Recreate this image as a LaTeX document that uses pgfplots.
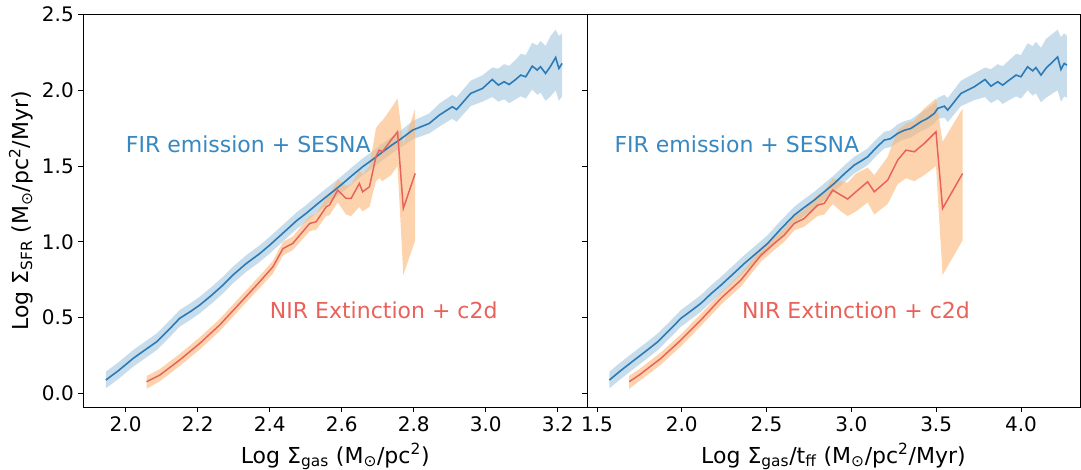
\documentclass[border=0pt]{standalone}
\usepackage{fontspec}
\setmainfont{DejaVu Sans}
\usepackage{pgfplots}
\usepackage{pgfplotstable}
\pgfplotsset{compat=1.18}
\usepgfplotslibrary{fillbetween}

\definecolor{bline}{HTML}{2C7BB6}
\definecolor{bband}{HTML}{1F77B4}
\definecolor{rline}{HTML}{E8615B}
\definecolor{oband}{HTML}{FCB677}
\definecolor{firtext}{HTML}{3787C0}

% left panel: x = log Sigma_gas
\pgfplotstableread{
x y lo hi
1.945 0.088 0.033 0.143
1.980 0.150 0.095 0.205
2.021 0.231 0.176 0.286
2.050 0.280 0.225 0.335
2.086 0.340 0.285 0.395
2.120 0.420 0.365 0.475
2.150 0.495 0.440 0.550
2.180 0.540 0.485 0.595
2.206 0.583 0.528 0.638
2.240 0.650 0.595 0.705
2.270 0.714 0.659 0.769
2.300 0.785 0.730 0.840
2.335 0.857 0.802 0.912
2.370 0.918 0.863 0.973
2.400 0.978 0.923 1.033
2.446 1.077 1.022 1.132
2.475 1.140 1.085 1.195
2.501 1.187 1.132 1.242
2.530 1.245 1.190 1.300
2.557 1.297 1.242 1.352
2.580 1.340 1.285 1.395
2.603 1.385 1.330 1.440
2.630 1.440 1.385 1.495
2.658 1.495 1.440 1.550
2.690 1.550 1.495 1.605
2.714 1.594 1.539 1.649
2.740 1.640 1.585 1.695
2.760 1.671 1.616 1.726
2.797 1.737 1.677 1.797
2.843 1.781 1.715 1.847
2.871 1.836 1.760 1.912
2.907 1.891 1.812 1.970
2.919 1.873 1.792 1.954
2.958 1.979 1.895 2.063
2.991 2.012 1.925 2.099
3.018 2.071 1.955 2.150
3.035 2.034 1.925 2.143
3.051 2.056 1.940 2.172
3.065 2.038 1.915 2.161
3.083 2.071 1.940 2.202
3.097 2.100 1.960 2.240
3.111 2.089 1.945 2.233
3.129 2.159 2.005 2.313
3.143 2.133 1.970 2.296
3.152 2.155 1.985 2.325
3.166 2.111 1.930 2.292
3.180 2.159 1.960 2.358
3.194 2.216 2.000 2.400
3.203 2.144 1.930 2.358
3.212 2.177 1.960 2.375
}\blueL

\pgfplotstableread{
x y lo hi
2.058 0.077 0.030 0.115
2.095 0.121 0.080 0.160
2.150 0.220 0.180 0.260
2.206 0.330 0.290 0.370
2.261 0.451 0.410 0.490
2.317 0.594 0.555 0.635
2.372 0.736 0.695 0.775
2.409 0.835 0.790 0.875
2.437 0.956 0.910 1.000
2.464 0.989 0.945 1.035
2.511 1.121 1.070 1.170
2.529 1.132 1.080 1.185
2.557 1.231 1.170 1.290
2.566 1.242 1.175 1.310
2.589 1.341 1.260 1.410
2.612 1.286 1.180 1.370
2.626 1.286 1.170 1.380
2.649 1.385 1.230 1.470
2.658 1.330 1.200 1.445
2.677 1.363 1.230 1.500
2.695 1.561 1.400 1.748
2.704 1.605 1.420 1.780
2.713 1.594 1.400 1.800
2.737 1.671 1.440 1.880
2.755 1.726 1.500 1.946
2.771 1.220 0.780 1.640
2.804 1.451 1.010 1.880
}\redL

% right panel: x = log Sigma_gas/t_ff
\pgfplotstableread{
x y lo hi
1.573 0.088 0.033 0.143
1.640 0.150 0.095 0.205
1.720 0.220 0.165 0.275
1.790 0.280 0.225 0.335
1.858 0.340 0.285 0.395
1.930 0.420 0.365 0.475
1.995 0.495 0.440 0.550
2.055 0.545 0.490 0.600
2.113 0.594 0.539 0.649
2.170 0.655 0.600 0.710
2.231 0.714 0.659 0.769
2.300 0.785 0.730 0.840
2.369 0.857 0.802 0.912
2.440 0.925 0.870 0.980
2.506 0.989 0.934 1.044
2.580 1.080 1.025 1.135
2.663 1.176 1.121 1.231
2.720 1.225 1.170 1.280
2.781 1.275 1.220 1.330
2.840 1.330 1.275 1.385
2.899 1.385 1.330 1.440
2.960 1.450 1.395 1.505
3.017 1.506 1.451 1.561
3.060 1.535 1.480 1.590
3.096 1.561 1.506 1.616
3.150 1.625 1.570 1.680
3.194 1.671 1.616 1.726
3.230 1.680 1.625 1.735
3.273 1.715 1.655 1.775
3.310 1.735 1.675 1.795
3.351 1.748 1.688 1.808
3.410 1.792 1.730 1.854
3.450 1.815 1.750 1.880
3.489 1.847 1.780 1.914
3.509 1.880 1.810 1.950
3.548 1.895 1.820 1.970
3.568 1.869 1.790 1.948
3.646 1.979 1.895 2.063
3.725 2.023 1.935 2.111
3.788 2.071 1.955 2.150
3.823 2.027 1.915 2.139
3.863 2.056 1.940 2.172
3.892 2.034 1.910 2.158
3.931 2.067 1.935 2.199
3.971 2.100 1.960 2.240
4.000 2.089 1.945 2.233
4.039 2.155 2.000 2.310
4.069 2.128 1.965 2.291
4.088 2.150 1.980 2.320
4.118 2.100 1.920 2.280
4.147 2.144 1.950 2.338
4.216 2.220 2.000 2.400
4.236 2.137 1.925 2.350
4.255 2.177 1.960 2.375
4.271 2.166 1.950 2.360
}\blueR

\pgfplotstableread{
x y lo hi
1.690 0.077 0.030 0.115
1.749 0.121 0.080 0.160
1.877 0.231 0.190 0.270
1.995 0.352 0.310 0.390
2.113 0.484 0.445 0.525
2.231 0.627 0.585 0.665
2.349 0.748 0.705 0.790
2.467 0.912 0.870 0.955
2.545 0.989 0.945 1.030
2.604 1.044 1.000 1.090
2.663 1.121 1.075 1.170
2.722 1.154 1.100 1.210
2.801 1.242 1.170 1.310
2.840 1.253 1.180 1.330
2.890 1.341 1.250 1.420
2.939 1.308 1.200 1.400
2.978 1.282 1.170 1.390
3.027 1.330 1.200 1.450
3.096 1.396 1.260 1.490
3.135 1.330 1.180 1.440
3.214 1.407 1.250 1.560
3.273 1.539 1.380 1.740
3.322 1.605 1.420 1.780
3.371 1.594 1.400 1.800
3.430 1.649 1.440 1.880
3.499 1.726 1.500 1.946
3.538 1.220 0.780 1.660
3.656 1.451 1.010 1.880
}\redR

\pgfplotsset{
  panel/.style={
    scale only axis,
    height=294.4pt,
    ymin=-0.09, ymax=2.5,
    ytick={0,0.5,1,1.5,2,2.5},
    axis line style={line width=0.6pt},
    tick pos=left,
    tick align=outside,
    major tick length=3.75pt,
    every tick/.style={black, line width=0.6pt},
    tick label style={font=\fontsize{15}{18}\selectfont},
    label style={font=\fontsize{16.5}{20}\selectfont},
    /pgf/number format/fixed,
    /pgf/number format/fixed zerofill,
    /pgf/number format/precision=1,
    /pgf/number format/assume math mode=true,
  },
  bandb/.style={fill=bband, fill opacity=0.25, draw=none},
  bando/.style={fill=oband, fill opacity=0.6, draw=none},
  lineb/.style={bline, line width=1.2pt},
  liner/.style={rline, line width=1.1pt},
}
\tikzset{lab/.style={anchor=west, inner sep=0pt, font=\fontsize{16.5}{20}\selectfont}}

\begin{document}
\begin{tikzpicture}
\begin{axis}[panel,
  at={(0pt,0pt)}, anchor=south west,
  width=377.6pt,
  xmin=1.883, xmax=3.281,
  xtick={2.0,2.2,2.4,2.6,2.8,3.0,3.2},
  xlabel={Log Σ\textsubscript{gas} (M\textsubscript{⊙}/pc\textsuperscript{2})},
  ylabel={Log Σ\textsubscript{SFR} (M\textsubscript{⊙}/pc\textsuperscript{2}/Myr)},
  xlabel style={at={(axis description cs:0.5,-0.1427)}, anchor=base},
  ylabel style={at={(axis description cs:-0.124,0.5)}, anchor=center},
]
\addplot[name path=bhi, draw=none, forget plot] table[x=x, y=hi] {\blueL};
\addplot[name path=blo, draw=none, forget plot] table[x=x, y=lo] {\blueL};
\addplot[bandb] fill between[of=bhi and blo];
\addplot[lineb] table[x=x, y=y] {\blueL};
\addplot[name path=rhi, draw=none, forget plot] table[x=x, y=hi] {\redL};
\addplot[name path=rlo, draw=none, forget plot] table[x=x, y=lo] {\redL};
\addplot[bando] fill between[of=rhi and rlo];
\addplot[liner] table[x=x, y=y] {\redL};
\node[lab, text=firtext] at (axis cs:2.0,1.644) {FIR emission + SESNA};
\node[lab, text=rline] at (axis cs:2.40,0.55) {NIR Extinction + c2d};
\end{axis}

\begin{axis}[panel,
  at={(377.6pt,0pt)}, anchor=south west,
  width=369.75pt,
  xmin=1.441, xmax=4.348,
  xtick={1.5,2.0,2.5,3.0,3.5,4.0},
  yticklabels={},
  xlabel={Log Σ\textsubscript{gas}/t\textsubscript{ff} (M\textsubscript{⊙}/pc\textsuperscript{2}/Myr)},
  xlabel style={at={(axis description cs:0.5,-0.1427)}, anchor=base},
]
\addplot[name path=bhi, draw=none, forget plot] table[x=x, y=hi] {\blueR};
\addplot[name path=blo, draw=none, forget plot] table[x=x, y=lo] {\blueR};
\addplot[bandb] fill between[of=bhi and blo];
\addplot[lineb] table[x=x, y=y] {\blueR};
\addplot[name path=rhi, draw=none, forget plot] table[x=x, y=hi] {\redR};
\addplot[name path=rlo, draw=none, forget plot] table[x=x, y=lo] {\redR};
\addplot[bando] fill between[of=rhi and rlo];
\addplot[liner] table[x=x, y=y] {\redR};
\node[lab, text=firtext] at (axis cs:1.602,1.644) {FIR emission + SESNA};
\node[lab, text=rline] at (axis cs:2.355,0.55) {NIR Extinction + c2d};
\end{axis}
\pgfresetboundingbox
\path[use as bounding box] (-62.625pt,-46.5pt) rectangle (748.125pt,305.25pt);
\end{tikzpicture}
\end{document}
